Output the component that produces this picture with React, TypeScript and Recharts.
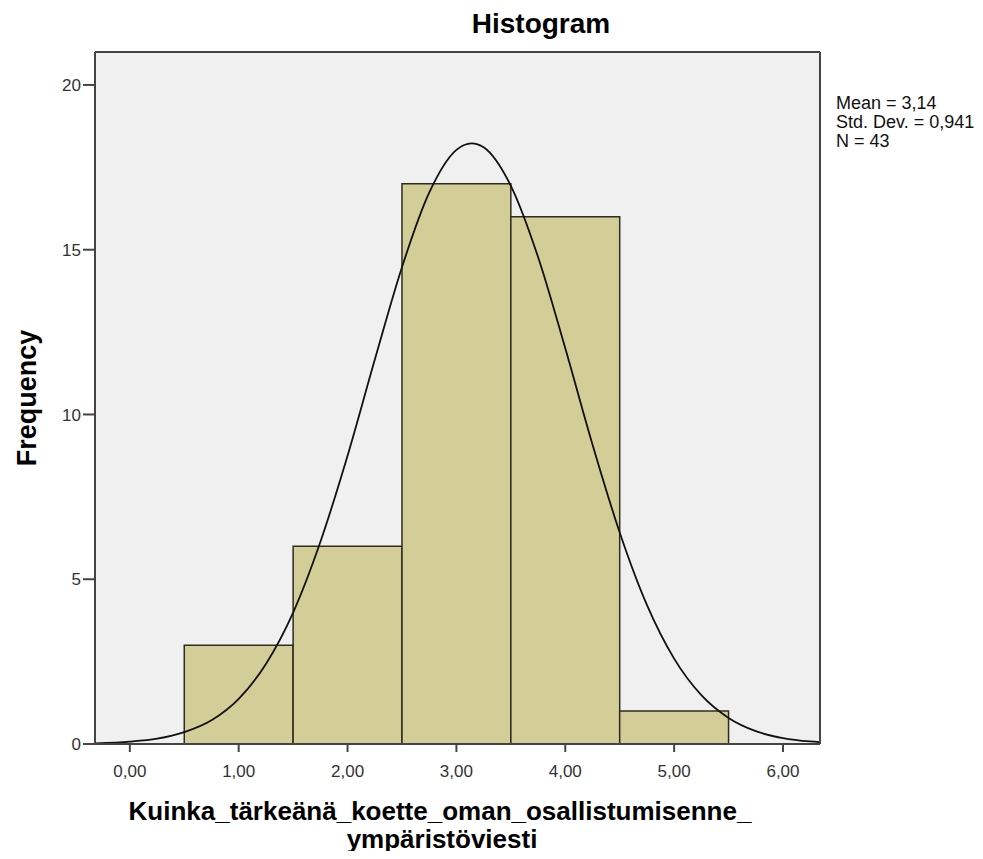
import {
  ComposedChart,
  Line,
  XAxis,
  YAxis,
  CartesianGrid,
  ReferenceArea,
} from 'recharts';

// histogram bins (value bins of width 1) and their counts
const binStart = [0.5, 1.5, 2.5, 3.5, 4.5];
const binEnd = [1.5, 2.5, 3.5, 4.5, 5.5];
const counts = [3, 6, 17, 16, 1];

// normal curve
const curveX = [
  -0.32, 0, 0.25, 0.5, 0.75, 1, 1.25, 1.5, 1.75, 2, 2.25, 2.5, 2.75, 3, 3.14,
  3.25, 3.5, 3.75, 4, 4.25, 4.5, 4.75, 5, 5.25, 5.5, 5.75, 6, 6.25, 6.34,
];
const curveY = [
  0.02, 0.07, 0.16, 0.36, 0.72, 1.37, 2.43, 3.99, 6.13, 8.75, 11.66, 14.47,
  16.73, 18.03, 18.23, 18.11, 16.94, 14.78, 12.01, 9.09, 6.42, 4.22, 2.59,
  1.48, 0.79, 0.39, 0.18, 0.077, 0.056,
];

const xTicks = [0, 1, 2, 3, 4, 5, 6];
const yTicks = [0, 5, 10, 15, 20];
const xDomain = [-0.32, 6.34];
const yDomain = [0, 21];

const statLines = ['Mean = 3,14', 'Std. Dev. = 0,941', 'N = 43'];

const FONT = '"Liberation Sans", Arial, sans-serif';
const W = 983;
const H = 859;

const fmt = (v: number) => v.toFixed(2).replace('.', ',');

export default function App() {
  const data = curveX.map((x, i) => ({ x, y: curveY[i] }));
  const tickStyle = { fontSize: 17, fill: '#333', fontFamily: FONT };
  const frame = { stroke: '#444', strokeWidth: 2 };

  return (
    <div style={{ position: 'relative', width: W, height: H, margin: -8, background: '#fff' }}>
      <ComposedChart
        width={W}
        height={H}
        data={data}
        margin={{ top: 51, right: 162, bottom: 75, left: 35 }}
      >
        <CartesianGrid fill="#f0f0f0" horizontal={false} vertical={false} />
        <XAxis
          dataKey="x"
          type="number"
          domain={xDomain}
          ticks={xTicks}
          tickFormatter={fmt}
          allowDataOverflow
          height={40}
          tickSize={8}
          tickMargin={13}
          axisLine={frame}
          tickLine={{ stroke: '#444', strokeWidth: 2 }}
          tick={tickStyle}
        />
        <XAxis
          xAxisId="top"
          orientation="top"
          type="number"
          domain={xDomain}
          height={1}
          tick={false}
          tickLine={false}
          axisLine={frame}
        />
        <YAxis
          type="number"
          domain={yDomain}
          ticks={yTicks}
          allowDataOverflow
          width={60}
          tickSize={12}
          tickMargin={2}
          axisLine={frame}
          tickLine={{ stroke: '#444', strokeWidth: 2 }}
          tick={tickStyle}
        />
        <YAxis
          yAxisId="right"
          orientation="right"
          type="number"
          domain={yDomain}
          width={1}
          tick={false}
          tickLine={false}
          axisLine={frame}
        />
        {counts.map((c, i) => (
          <ReferenceArea
            key={i}
            x1={binStart[i]}
            x2={binEnd[i]}
            y1={0}
            y2={c}
            fill="#d3ce98"
            fillOpacity={1}
            stroke="#2e2c20"
            strokeWidth={1.5}
          />
        ))}
        <Line
          dataKey="y"
          type="monotone"
          stroke="#111"
          strokeWidth={1.8}
          dot={false}
          isAnimationActive={false}
        />
      </ComposedChart>
      <svg
        width={W}
        height={H}
        style={{ position: 'absolute', left: 0, top: 0, pointerEvents: 'none' }}
        fontFamily={FONT}
      >
        <text x={541} y={33} textAnchor="middle" fontSize={28} fontWeight="bold" fill="#000">
          Histogram
        </text>
        <text
          x={0}
          y={0}
          transform="translate(36,398) rotate(-90)"
          textAnchor="middle"
          fontSize={27}
          fontWeight="bold"
          fill="#000"
        >
          Frequency
        </text>
        <text x={440} y={820} textAnchor="middle" fontSize={26} fontWeight="bold" fill="#000">
          Kuinka_tärkeänä_koette_oman_osallistumisenne_
        </text>
        <text x={442} y={848} textAnchor="middle" fontSize={26} fontWeight="bold" fill="#000">
          ympäristöviesti
        </text>
        {statLines.map((s, i) => (
          <text key={s} x={836} y={109 + i * 19} fontSize={18} fill="#111">
            {s}
          </text>
        ))}
      </svg>
    </div>
  );
}
